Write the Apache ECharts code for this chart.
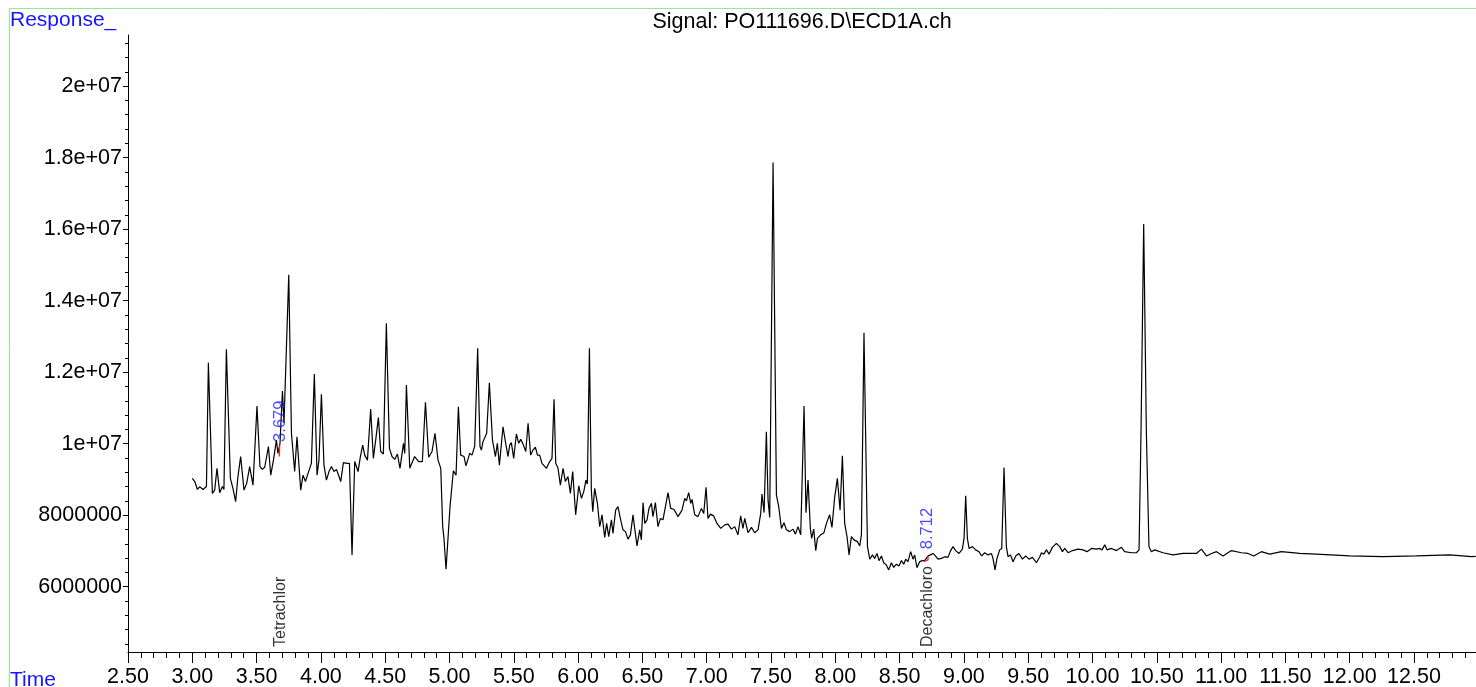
<!DOCTYPE html>
<html>
<head>
<meta charset="utf-8">
<script src="https://cdn.jsdelivr.net/npm/echarts@6/dist/echarts.min.js"></script>
<style>
html,body{margin:0;padding:0;background:#fff;}
#chart{width:1476px;height:687px;}
</style>
</head>
<body>
<div id="chart"></div>
<script>
// Retention time (min)
const times = [
3.000,3.019,3.040,3.058,3.083,3.110,3.125,3.156,3.174,3.192,
3.213,3.234,3.246,3.265,3.296,3.316,3.337,3.355,3.376,3.402,
3.423,3.446,3.472,3.503,3.526,3.545,3.563,3.592,3.610,3.631,
3.654,3.666,3.682,3.701,3.713,3.750,3.771,3.796,3.814,3.843,
3.861,3.880,3.900,3.926,3.949,3.970,3.985,4.004,4.024,4.043,
4.063,4.082,4.102,4.121,4.141,4.154,4.175,4.201,4.222,4.242,
4.263,4.289,4.307,4.325,4.341,4.362,4.387,4.408,4.426,4.447,
4.465,4.486,4.509,4.533,4.553,4.574,4.595,4.615,4.642,4.652,
4.665,4.691,4.729,4.760,4.789,4.813,4.838,4.864,4.887,4.911,
4.932,4.947,4.957,4.973,5.004,5.030,5.051,5.069,5.087,5.113,
5.128,5.157,5.175,5.196,5.219,5.237,5.248,5.260,5.274,5.289,
5.310,5.334,5.357,5.372,5.388,5.416,5.437,5.455,5.468,5.481,
5.499,5.520,5.538,5.554,5.575,5.593,5.611,5.631,5.649,5.668,
5.684,5.701,5.719,5.754,5.779,5.797,5.813,5.826,5.844,5.862,
5.883,5.901,5.921,5.940,5.958,5.981,6.005,6.026,6.044,6.061,
6.072,6.088,6.103,6.114,6.129,6.150,6.168,6.186,6.207,6.222,
6.238,6.259,6.271,6.292,6.310,6.331,6.349,6.368,6.388,6.407,
6.427,6.440,6.458,6.479,6.492,6.505,6.518,6.536,6.551,6.570,
6.582,6.601,6.621,6.640,6.660,6.679,6.699,6.720,6.746,6.777,
6.808,6.829,6.842,6.860,6.876,6.886,6.907,6.932,6.959,6.977,
6.995,7.010,7.029,7.054,7.080,7.109,7.140,7.166,7.192,7.218,
7.243,7.264,7.282,7.296,7.321,7.348,7.373,7.399,7.420,7.430,
7.446,7.464,7.477,7.490,7.516,7.542,7.560,7.581,7.601,7.620,
7.645,7.671,7.690,7.710,7.731,7.757,7.772,7.788,7.806,7.816,
7.832,7.848,7.861,7.886,7.912,7.931,7.956,7.974,7.995,8.016,
8.037,8.055,8.073,8.091,8.107,8.125,8.145,8.172,8.190,8.203,
8.223,8.250,8.268,8.289,8.306,8.324,8.340,8.359,8.376,8.397,
8.415,8.436,8.454,8.475,8.495,8.514,8.532,8.547,8.565,8.586,
8.604,8.617,8.635,8.656,8.677,8.695,8.721,8.740,8.760,8.778,
8.799,8.825,8.851,8.876,8.897,8.915,8.936,8.962,8.988,9.001,
9.014,9.027,9.040,9.066,9.092,9.117,9.138,9.162,9.187,9.214,
9.226,9.242,9.257,9.278,9.294,9.312,9.330,9.343,9.362,9.382,
9.403,9.428,9.455,9.481,9.506,9.533,9.564,9.590,9.603,9.621,
9.642,9.662,9.688,9.719,9.745,9.766,9.784,9.810,9.844,9.887,
9.926,9.957,9.992,10.030,10.056,10.074,10.095,10.113,10.147,10.186,
10.225,10.250,10.303,10.341,10.362,10.377,10.398,10.419,10.439,10.458,
10.484,10.548,10.626,10.704,10.808,10.847,10.886,10.925,10.964,11.015,
11.080,11.158,11.209,11.254,11.313,11.378,11.469,11.611,11.741,12.000,
12.259,12.519,12.778,12.946,12.980
];
// Detector response (millions)
const responseMillions = [
9.03,8.94,8.72,8.80,8.72,8.80,12.26,8.61,8.70,9.31,
8.63,8.80,8.72,12.64,9.03,8.75,8.38,9.08,9.64,8.70,
8.89,9.36,8.84,11.05,9.36,9.28,9.34,9.92,9.12,9.54,
10.10,9.73,10.01,11.47,10.57,14.72,10.29,9.22,10.19,8.70,
9.12,8.94,9.17,9.45,11.95,9.12,9.54,11.38,9.40,8.98,
9.22,9.36,9.22,9.28,9.08,8.94,9.47,9.45,9.45,6.89,
9.50,9.22,9.64,9.96,9.68,9.54,10.97,9.59,10.10,10.73,
9.78,9.71,13.37,9.87,9.64,9.56,9.71,9.31,10.01,9.73,
11.64,9.31,9.64,9.50,9.50,11.16,9.62,9.78,10.29,9.54,
9.31,7.68,7.35,6.49,8.24,9.24,9.12,11.03,9.68,9.64,
9.38,9.73,9.68,9.93,12.67,9.92,9.82,10.05,10.01,10.29,
11.70,10.10,9.64,10.01,9.40,10.47,10.01,9.64,9.96,10.03,
9.59,10.27,10.01,10.12,9.96,9.78,10.57,9.68,9.82,9.90,
9.68,9.68,9.45,9.31,9.50,9.59,11.24,9.45,9.31,8.84,
9.31,8.94,9.08,8.61,9.22,8.01,8.82,8.47,8.66,8.98,
8.87,12.67,8.70,8.10,8.75,8.33,7.68,8.01,7.38,7.77,
7.40,7.87,7.49,8.14,8.24,7.87,7.59,7.54,7.33,7.45,
8.01,7.63,7.14,7.59,7.31,8.35,7.77,7.87,8.19,8.33,
7.96,8.35,7.68,7.91,7.87,8.24,8.63,8.19,8.16,7.96,
8.14,8.47,8.40,8.63,8.33,8.44,8.01,7.96,8.19,8.05,
8.78,7.91,8.03,7.98,7.77,7.63,7.73,7.75,7.61,7.68,
7.45,7.98,7.63,7.91,7.51,7.66,7.51,7.59,8.05,8.59,
8.07,10.33,8.42,7.94,17.86,8.56,8.24,7.63,7.79,7.59,
7.54,7.61,7.47,7.68,7.45,11.05,8.07,8.98,7.63,7.35,
7.61,7.01,7.35,7.45,7.51,7.77,8.01,7.66,8.50,9.03,
8.14,9.66,7.77,7.40,6.89,7.40,7.31,7.26,7.14,7.45,
13.10,7.12,6.77,6.89,6.79,6.93,6.73,6.86,6.67,6.61,
6.47,6.67,6.54,6.63,6.58,6.73,6.63,6.77,6.70,6.98,
6.77,6.89,6.53,6.70,6.73,6.73,6.86,6.89,6.93,6.86,
6.77,6.79,6.84,6.82,7.01,7.12,7.01,6.93,7.05,7.35,
8.54,7.35,7.07,7.12,7.03,6.98,6.86,6.95,6.89,6.93,
6.79,6.47,6.79,7.03,7.07,9.33,7.12,6.84,6.89,6.70,
6.86,6.93,6.77,6.86,6.77,6.82,6.67,6.84,6.95,6.91,
7.03,6.91,7.10,7.21,7.12,6.98,7.07,6.95,7.01,7.05,
7.03,6.98,7.07,7.05,7.07,7.03,7.17,7.03,7.07,7.01,
7.10,6.98,6.95,6.95,7.03,10.29,16.14,10.29,7.12,6.98,
7.03,6.95,6.89,6.93,6.93,7.05,6.86,6.93,6.98,6.86,
7.01,6.95,6.93,6.86,6.98,6.91,6.98,6.93,6.91,6.86,
6.84,6.86,6.89,6.84,6.85
];

// Axis ticks / labels
const xMajorTicks = [2.5,3,3.5,4,4.5,5,5.5,6,6.5,7,7.5,8,8.5,9,9.5,10,10.5,11,11.5,12,12.5];
const yMajorTicks = [6e6,8e6,10e6,12e6,14e6,16e6,18e6,20e6];
const yTickLabels = ['6000000','8000000','1e+07','1.2e+07','1.4e+07','1.6e+07','1.8e+07','2e+07'];

// Identified peaks
const peakTimes = [3.679, 8.712];
const peakNames = ['Tetrachlor', 'Decachloro'];
const peakLabelResponseMillions = [10.05, 7.05];
// Integration baseline marks (time, response millions)
const markTimes1 = [3.677, 3.679];
const markResp1 = [9.64, 9.95];
const markTimes2 = [8.687, 8.721, 8.721];
const markResp2 = [6.70, 6.75, 6.86];

const X_MIN = 2.5, X_MAX = 12.982;
const Y_MIN = 4.174e6, Y_MAX = 21.428e6;
const FONT = '"Liberation Sans", Arial, sans-serif';

const xMinorTicks = [];
for (let i = 0; i <= 104; i++) xMinorTicks.push(+(2.5 + i * 0.1).toFixed(1));
const yMinorTicks = [];
for (let i = 11; i <= 53; i++) yMinorTicks.push(i * 4e5);

const trace = times.map((t, i) => [t, responseMillions[i] * 1e6]);
const mark1 = markTimes1.map((t, i) => [t, markResp1[i] * 1e6]);
const mark2 = markTimes2.map((t, i) => [t, markResp2[i] * 1e6]);

const chart = echarts.init(document.getElementById('chart'), null, {renderer: 'canvas'});
const axisLineStyle = {color: '#000', width: 1};

chart.setOption({
  animation: false,
  backgroundColor: '#fff',
  grid: {left: 128, right: 0, top: 35, bottom: 35, containLabel: false, outerBoundsMode: 'none'},
  xAxis: [
    {
      type: 'value', min: X_MIN, max: X_MAX, position: 'bottom',
      axisLine: {show: true, onZero: false, lineStyle: axisLineStyle},
      axisTick: {show: true, length: 6, lineStyle: axisLineStyle, customValues: xMinorTicks},
      axisLabel: {show: false},
      splitLine: {show: false}
    },
    {
      type: 'value', min: X_MIN, max: X_MAX, position: 'bottom',
      axisLine: {show: false, onZero: false},
      axisTick: {show: true, length: 11, lineStyle: axisLineStyle, customValues: xMajorTicks},
      axisLabel: {
        show: true, customValues: xMajorTicks, margin: 14,
        fontSize: 21.5, color: '#000', fontFamily: FONT,
        formatter: v => v.toFixed(2)
      },
      splitLine: {show: false}
    }
  ],
  yAxis: [
    {
      type: 'value', min: Y_MIN, max: Y_MAX, position: 'left',
      axisLine: {show: true, onZero: false, lineStyle: axisLineStyle},
      axisTick: {show: true, length: 3, lineStyle: axisLineStyle, customValues: yMinorTicks},
      axisLabel: {show: false},
      splitLine: {show: false}
    },
    {
      type: 'value', min: Y_MIN, max: Y_MAX, position: 'left',
      axisLine: {show: false, onZero: false},
      axisTick: {show: true, length: 5, lineStyle: axisLineStyle, customValues: yMajorTicks},
      axisLabel: {
        show: true, customValues: yMajorTicks, margin: 6,
        fontSize: 21.5, color: '#000', fontFamily: FONT,
        formatter: v => yTickLabels[yMajorTicks.indexOf(Math.round(v))]
      },
      splitLine: {show: false}
    }
  ],
  series: [
    {
      type: 'line', xAxisIndex: 0, yAxisIndex: 0, data: trace,
      showSymbol: false, symbol: 'none', sampling: null,
      lineStyle: {color: '#000', width: 1.2}, z: 3
    },
    {
      type: 'line', xAxisIndex: 0, yAxisIndex: 0, data: mark1,
      symbol: 'none', lineStyle: {color: '#ff2020', width: 1.3}, z: 4
    },
    {
      type: 'line', xAxisIndex: 0, yAxisIndex: 0, data: mark2,
      symbol: 'none', lineStyle: {color: '#ff2020', width: 1.3}, z: 4
    },
    {
      type: 'scatter', xAxisIndex: 0, yAxisIndex: 0, symbolSize: 1,
      itemStyle: {color: 'rgba(0,0,0,0)'},
      data: peakNames.map((n, i) => ({name: n, value: [peakTimes[i], Y_MIN]})),
      label: {
        show: true, position: 'right', distance: 0, rotate: 90,
        offset: [5, 0],
        formatter: p => p.name, fontSize: 16, color: '#000', fontFamily: FONT
      },
      z: 5
    },
    {
      type: 'scatter', xAxisIndex: 0, yAxisIndex: 0, symbolSize: 1,
      itemStyle: {color: 'rgba(0,0,0,0)'},
      data: peakTimes.map((t, i) => ({name: t.toFixed(3), value: [t, peakLabelResponseMillions[i] * 1e6]})),
      label: {
        show: true, position: 'right', distance: 0, rotate: 90,
        formatter: p => p.name, fontSize: 16.5, color: '#1a1aff', fontFamily: FONT
      },
      z: 5
    }
  ],
  graphic: [
    {
      type: 'rect', silent: true, z: 0,
      shape: {x: 9.5, y: 8.5, width: 1480, height: 700},
      style: {fill: 'none', stroke: '#8cee8c', lineWidth: 1}
    },
    {
      type: 'text', silent: true, x: 10, y: 10,
      style: {text: 'Response_', fill: '#1515ff', font: '21px ' + FONT, align: 'left', verticalAlign: 'top'}
    },
    {
      type: 'text', silent: true, x: 802, y: 11,
      style: {text: 'Signal: PO111696.D\\ECD1A.ch', fill: '#000', font: '21.5px ' + FONT, align: 'center', verticalAlign: 'top'}
    },
    {
      type: 'text', silent: true, x: 10, y: 670,
      style: {text: 'Time', fill: '#1515ff', font: '21px ' + FONT, align: 'left', verticalAlign: 'top'}
    }
  ]
});
</script>
</body>
</html>
